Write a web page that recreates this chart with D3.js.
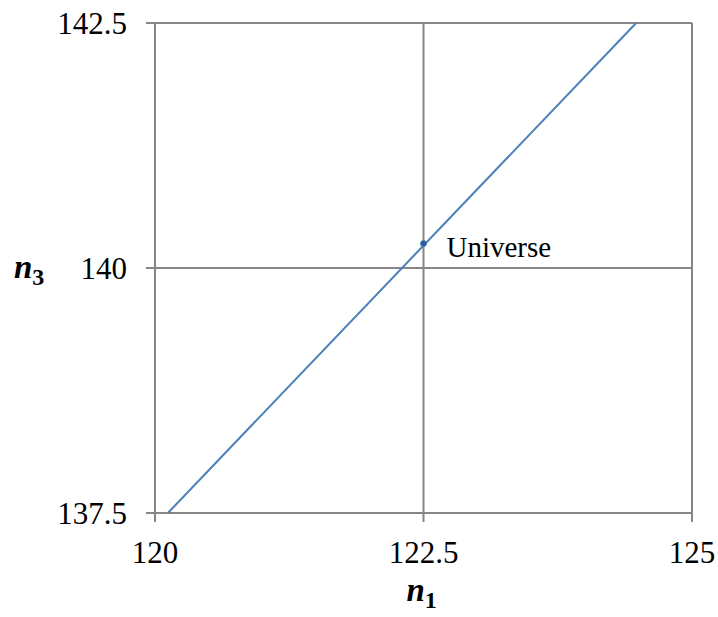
<!DOCTYPE html>
<html>
<head>
<meta charset="utf-8">
<script src="https://cdn.jsdelivr.net/npm/d3@7"></script>
</head>
<body style="margin:0">
<svg id="n1n3" width="718" height="617"></svg>
<script>
// values
var xTicks = [120, 122.5, 125];
var yTicks = [137.5, 140, 142.5];
var lineN1 = [120.12, 124.48];
var lineN3 = [137.5, 142.5];
var universe = {n1: 122.5, n3: 140.25, label: 'Universe'};

var margin = {left: 155, right: 26, top: 23, bottom: 104};
var W = 718, H = 617;
var fontFamily = '"Liberation Serif"';

var svg = d3.select('svg#n1n3');

var x = d3.scaleLinear().domain([120, 125]).range([margin.left, W - margin.right]);
var y = d3.scaleLinear().domain([137.5, 142.5]).range([H - margin.bottom, margin.top]);

var gridColor = '#868686';

// grid lines
svg.append('g')
    .selectAll('line')
    .data(xTicks)
    .enter().append('line')
    .attr('x1', d => x(d)).attr('x2', d => x(d))
    .attr('y1', y(142.5)).attr('y2', y(137.5) + 9)
    .attr('stroke', gridColor).attr('stroke-width', 2);

svg.append('g')
    .selectAll('line')
    .data(yTicks)
    .enter().append('line')
    .attr('x1', x(120) - 9).attr('x2', x(125))
    .attr('y1', d => y(d)).attr('y2', d => y(d))
    .attr('stroke', gridColor).attr('stroke-width', 2);

// tick labels
svg.append('g')
    .selectAll('text')
    .data(yTicks)
    .enter().append('text')
    .attr('x', x(120) - 28)
    .attr('y', d => y(d))
    .attr('dy', '0.35em')
    .attr('text-anchor', 'end')
    .style('font-family', fontFamily)
    .style('font-size', '31px')
    .text(d => d);

svg.append('g')
    .selectAll('text')
    .data(xTicks)
    .enter().append('text')
    .attr('x', d => x(d))
    .attr('y', y(137.5) + 50)
    .attr('text-anchor', 'middle')
    .style('font-family', fontFamily)
    .style('font-size', '31px')
    .text(d => d);

// series line
svg.append('clipPath').attr('id', 'clip')
    .append('rect')
    .attr('x', x(120)).attr('y', y(142.5))
    .attr('width', x(125) - x(120)).attr('height', y(137.5) - y(142.5));

var pts = lineN1.map((d, i) => [d, lineN3[i]]);

svg.append('path')
    .datum(pts)
    .attr('clip-path', 'url(#clip)')
    .attr('fill', 'none')
    .attr('stroke', '#4a7ebb')
    .attr('stroke-width', 2)
    .attr('d', d3.line().x(d => x(d[0])).y(d => y(d[1])));

// universe point
svg.append('circle')
    .attr('cx', x(universe.n1)).attr('cy', y(universe.n3))
    .attr('r', 3)
    .attr('fill', '#2c5a96')
    .attr('stroke', '#4a7ebb')
    .attr('stroke-width', 1);

svg.append('text')
    .attr('x', x(universe.n1) + 23)
    .attr('y', y(universe.n3) + 13)
    .style('font-family', fontFamily)
    .style('font-size', '29px')
    .text(universe.label);

// axis titles
var yTitle = svg.append('text')
    .attr('x', 14)
    .attr('y', y(140) + 10)
    .style('font-family', fontFamily)
    .style('font-size', '33px')
    .style('font-weight', 'bold');
yTitle.append('tspan').style('font-style', 'italic').text('n');
yTitle.append('tspan').attr('dy', 7).style('font-size', '24px').text('3');

var xTitle = svg.append('text')
    .attr('x', x(122.5) - 17)
    .attr('y', 601)
    .style('font-family', fontFamily)
    .style('font-size', '33px')
    .style('font-weight', 'bold');
xTitle.append('tspan').style('font-style', 'italic').text('n');
xTitle.append('tspan').attr('dy', 7).style('font-size', '24px').text('1');
</script>
</body>
</html>
